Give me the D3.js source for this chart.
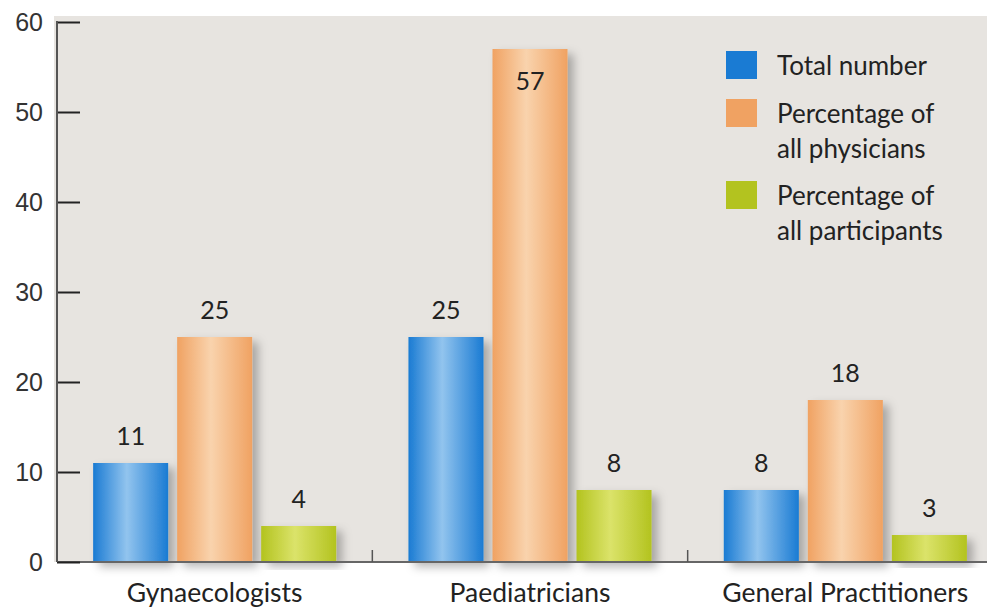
<!DOCTYPE html>
<html>
<head>
<meta charset="utf-8">
<script src="https://cdn.jsdelivr.net/npm/d3@7"></script>
<style>
  body { margin: 0; background: #fff; }
  svg { display: block; }
</style>
</head>
<body>
<script>
// data
categories = ["Gynaecologists", "Paediatricians", "General Practitioners"]
series = ["Total number", "Percentage of all physicians", "Percentage of all participants"]
totalNumber = [11, 25, 8]
pctPhysicians = [25, 57, 18]
pctParticipants = [4, 8, 3]
yTicks = [0, 10, 20, 30, 40, 50, 60]
legendLines = [["Total number"], ["Percentage of", "all physicians"], ["Percentage of", "all participants"]]

colors = ["#1a7bd3", "#f0a262", "#b3c31f"]
lights = ["#92c4ee", "#f9d3ad", "#dbe36a"]

width = 987
height = 607
margin = ({top: 22, right: -16, bottom: 45, left: 57})

data = categories.map((c, i) => ({
  name: c,
  values: [totalNumber[i], pctPhysicians[i], pctParticipants[i]]
}))

x0 = d3.scaleBand()
  .domain(categories)
  .range([margin.left, width - margin.right])

x1 = d3.scaleBand()
  .domain(d3.range(series.length))
  .range([0, x0.bandwidth()])
  .paddingInner(0.107)
  .paddingOuter(0.43)

y = d3.scaleLinear()
  .domain([0, 60])
  .range([height - margin.bottom, margin.top])

const svg = d3.select("body").append("svg")
  .attr("width", width)
  .attr("height", height)

const defs = svg.append("defs")
colors.forEach((c, i) => {
  const g = defs.append("linearGradient").attr("id", "grad" + i)
    .attr("x1", "0%").attr("x2", "100%").attr("y1", "0%").attr("y2", "0%")
  g.append("stop").attr("offset", "0%").attr("stop-color", c)
  g.append("stop").attr("offset", "45%").attr("stop-color", lights[i])
  g.append("stop").attr("offset", "100%").attr("stop-color", c)
})
defs.append("filter").attr("id", "shadow")
  .attr("x", "-20%").attr("y", "-10%").attr("width", "150%").attr("height", "130%")
  .append("feDropShadow")
  .attr("dx", 6).attr("dy", 5).attr("stdDeviation", 5)
  .attr("flood-color", "#000").attr("flood-opacity", 0.28)

// panel
svg.append("rect")
  .attr("x", 54)
  .attr("y", 16)
  .attr("width", width - 54)
  .attr("height", y(0) - 16)
  .attr("fill", "#e7e4e0")

// bars
const groups = svg.append("g")
  .selectAll("g")
  .data(data)
  .join("g")
  .attr("transform", d => `translate(${x0(d.name)},0)`)

groups.selectAll("rect")
  .data(d => d.values.map((v, i) => ({i, v})))
  .join("rect")
  .attr("x", d => x1(d.i))
  .attr("y", d => y(d.v))
  .attr("width", x1.bandwidth())
  .attr("height", d => y(0) - y(d.v))
  .attr("fill", d => `url(#grad${d.i})`)
  .attr("filter", "url(#shadow)")

groups.selectAll("text")
  .data(d => d.values.map((v, i) => ({i, v})))
  .join("text")
  .attr("x", d => x1(d.i) + x1.bandwidth() / 2)
  .attr("y", d => d.v > 50 ? y(d.v) + 41 : y(d.v) - 18)
  .attr("text-anchor", "middle")
  .attr("font-family", "Lato, 'Noto Sans', sans-serif")
  .attr("font-size", 25)
  .attr("fill", "#222")
  .text(d => d.v)

// x axis
const xAxis = svg.append("g")
xAxis.append("line")
  .attr("x1", margin.left).attr("x2", width)
  .attr("y1", y(0)).attr("y2", y(0))
  .attr("stroke", "#666").attr("stroke-width", 2)
xAxis.selectAll(".sep")
  .data(categories.slice(1))
  .join("line")
  .attr("class", "sep")
  .attr("x1", d => x0(d)).attr("x2", d => x0(d))
  .attr("y1", y(0) - 12).attr("y2", y(0))
  .attr("stroke", "#555").attr("stroke-width", 1.5)
xAxis.selectAll("text")
  .data(categories)
  .join("text")
  .attr("x", d => x0(d) + x0.bandwidth() / 2)
  .attr("y", y(0) + 40)
  .attr("text-anchor", "middle")
  .attr("font-family", "Lato, 'Noto Sans', sans-serif")
  .attr("font-size", 26.5)
  .attr("fill", "#222")
  .text(d => d)

// y axis
const yAxis = svg.append("g")
  .attr("transform", `translate(${margin.left},0)`)
  .call(d3.axisRight(y).tickValues(yTicks).tickSize(23).tickFormat(""))
yAxis.select(".domain").remove()
yAxis.selectAll(".tick line").attr("stroke", "#222").attr("stroke-width", 2)
yAxis.append("line")
  .attr("x1", 0).attr("x2", 0)
  .attr("y1", y(60) - 1).attr("y2", y(0))
  .attr("stroke", "#555").attr("stroke-width", 2)
yAxis.selectAll(".ylab")
  .data(yTicks)
  .join("text")
  .attr("class", "ylab")
  .attr("x", -14)
  .attr("y", d => y(d) + 9)
  .attr("text-anchor", "end")
  .attr("font-family", "'Liberation Sans', Arial, sans-serif")
  .attr("font-size", 25)
  .attr("fill", "#333")
  .text(d => d)

// legend
const legend = svg.append("g")
  .attr("transform", "translate(726,51)")
const items = legend.selectAll("g")
  .data(legendLines)
  .join("g")
  .attr("transform", (d, i) => `translate(0,${[0, 48, 130][i]})`)
items.append("rect")
  .attr("width", 31).attr("height", 28)
  .attr("fill", (d, i) => colors[i])
items.append("text")
  .attr("x", 51)
  .attr("font-family", "Lato, 'Noto Sans', sans-serif")
  .attr("font-size", 26)
  .attr("fill", "#222")
  .selectAll("tspan")
  .data(d => d)
  .join("tspan")
  .attr("x", 51)
  .attr("y", (d, i) => 24 + i * 35)
  .text(d => d)
</script>
</body>
</html>
